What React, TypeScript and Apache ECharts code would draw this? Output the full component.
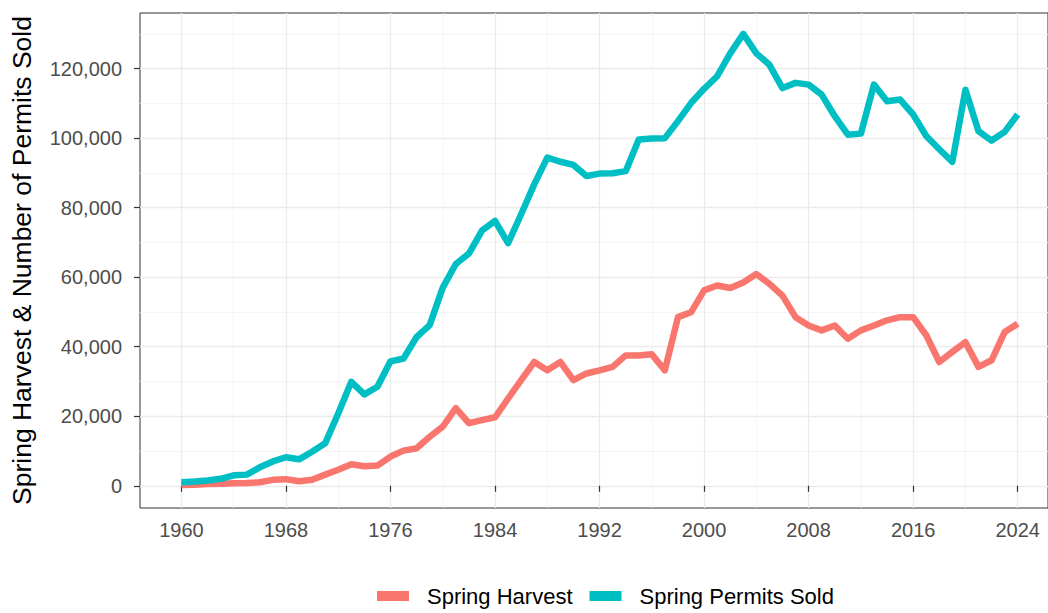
import React, { useEffect, useRef } from "react";
import * as echarts from "echarts";

const years: number[] = [];
for (let y = 1960; y <= 2024; y++) years.push(y);

const permitsSold = [
  1000, 1200, 1500, 2000, 3000, 3200, 5300, 7000, 8200, 7600,
  9800, 12200, 20800, 29900, 26300, 28500, 35800, 36600, 42800, 46200,
  57000, 63800, 66800, 73400, 76200, 69800, 78100, 86700, 94400, 93200,
  92300, 89100, 89800, 89900, 90500, 99600, 99900, 100000, 104900, 110100,
  114200, 117800, 124400, 130000, 124400, 121100, 114400, 115900, 115400, 112500,
  106300, 101000, 101300, 115400, 110600, 111100, 106800, 100600, 96800, 93200,
  113900, 102000, 99300, 101800, 106800,
];

const springHarvest = [
  200, 300, 500, 600, 700, 800, 1000, 1700, 1900, 1300,
  1700, 3200, 4600, 6200, 5600, 5800, 8400, 10100, 10800, 14100,
  17000, 22300, 18000, 18900, 19700, 25100, 30400, 35600, 33200, 35600,
  30400, 32300, 33200, 34200, 37500, 37500, 37800, 33200, 48500, 49900,
  56200, 57600, 56900, 58500, 60900, 58100, 54700, 48500, 46100, 44700,
  46100, 42300, 44700, 46100, 47600, 48500, 48500, 43300, 35600, 38500,
  41300, 34200, 36100, 44200, 46600,
];

const xMajorTicks = [1960, 1968, 1976, 1984, 1992, 2000, 2008, 2016, 2024];
const xMinorTicks = [1964, 1972, 1980, 1988, 1996, 2004, 2012, 2020];
const yMajorTicks = [0, 20000, 40000, 60000, 80000, 100000, 120000];
const yMinorTicks = [10000, 30000, 50000, 70000, 90000, 110000, 130000];

const seriesNames = ["Spring Harvest", "Spring Permits Sold"];
const seriesColors = ["#F8766D", "#00BFC4"];

const FONT = "'Liberation Sans', Arial, Helvetica, sans-serif";
const XMIN = 1956.83;
const XMAX = 2026.32;
const YMIN = -6400;
const YMAX = 136000;

export default function App() {
  const ref = useRef<HTMLDivElement>(null);

  useEffect(() => {
    if (!ref.current) return;
    const chart = echarts.init(ref.current, undefined, { renderer: "svg" });

    const majorLine = { show: true, lineStyle: { color: "#EBEBEB", width: 1.3 } };
    const minorLine = { show: true, lineStyle: { color: "#F2F2F2", width: 0.8 } };

    const option: any = {
      animation: false,
      backgroundColor: "#FFFFFF",
      grid: {
        left: 137,
        right: 0,
        top: 13,
        bottom: 105,
        show: true,
        borderColor: "#333333",
        borderWidth: 1,
        backgroundColor: "transparent",
      },
      legend: {
        left: 372,
        top: 580,
        icon: "rect",
        itemWidth: 32,
        itemHeight: 10,
        itemGap: 17,
        textStyle: {
          fontFamily: FONT,
          fontSize: 22,
          color: "#000000",
          padding: [0, 0, 0, 13],
        },
        data: seriesNames,
      },
      xAxis: [
        {
          type: "value",
          min: XMIN,
          max: XMAX,
          axisLine: { show: false },
          axisTick: {
            show: true,
            customValues: xMajorTicks,
            length: 6,
            lineStyle: { color: "#333333", width: 1.2 },
          },
          axisLabel: {
            customValues: xMajorTicks,
            fontFamily: FONT,
            fontSize: 20,
            color: "#4D4D4D",
            margin: 12,
            formatter: (v: number) => String(v),
          },
          splitLine: majorLine,
          z: 1,
        },
        {
          type: "value",
          min: XMIN,
          max: XMAX,
          position: "bottom",
          axisLine: { show: false },
          axisTick: { show: false, customValues: xMinorTicks },
          axisLabel: { show: false, customValues: xMinorTicks },
          splitLine: minorLine,
          z: 0,
        },
      ],
      yAxis: [
        {
          type: "value",
          min: YMIN,
          max: YMAX,
          name: "Spring Harvest & Number of Permits Sold",
          nameLocation: "middle",
          nameGap: 105,
          nameTextStyle: { fontFamily: FONT, fontSize: 26.5, color: "#000000" },
          axisLine: { show: false },
          axisTick: {
            show: true,
            customValues: yMajorTicks,
            length: 6,
            lineStyle: { color: "#333333", width: 1.2 },
          },
          axisLabel: {
            customValues: yMajorTicks,
            fontFamily: FONT,
            fontSize: 20,
            color: "#4D4D4D",
            margin: 18,
            formatter: (v: number) => v.toLocaleString("en-US"),
          },
          splitLine: majorLine,
          z: 1,
        },
        {
          type: "value",
          min: YMIN,
          max: YMAX,
          position: "left",
          axisLine: { show: false },
          axisTick: { show: false, customValues: yMinorTicks },
          axisLabel: { show: false, customValues: yMinorTicks },
          splitLine: minorLine,
          z: 0,
        },
      ],
      series: [springHarvest, permitsSold].map((vals, si) => ({
        name: seriesNames[si],
        type: "line",
        xAxisIndex: 0,
        yAxisIndex: 0,
        symbol: "none",
        showSymbol: false,
        color: seriesColors[si],
        lineStyle: { color: seriesColors[si], width: 6.5, cap: "butt", join: "round" },
        data: years.map((y, i) => [y, vals[i]]),
        z: 3 + si,
      })),
    };

    chart.setOption(option);
    return () => chart.dispose();
  }, []);

  return (
    <div
      ref={ref}
      style={{ position: "fixed", left: 0, top: 0, width: 1048, height: 613 }}
    />
  );
}
